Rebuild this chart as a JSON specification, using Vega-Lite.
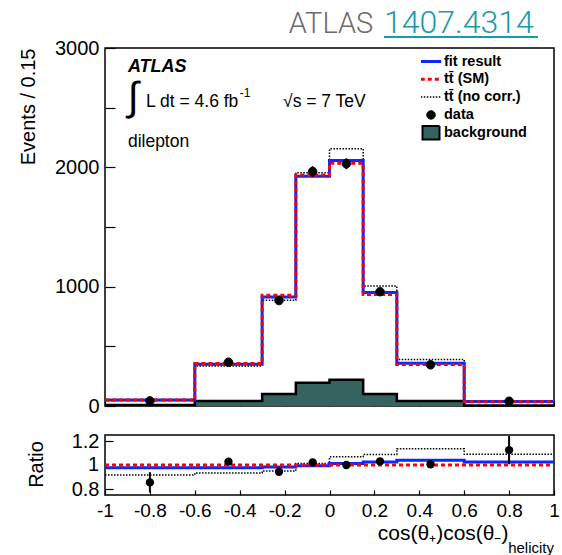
{
  "$schema": "https://vega.github.io/schema/vega-lite/v6.json",
  "background": "white",
  "padding": {"left": 17, "top": 5, "right": 0, "bottom": 0},
  "bounds": "flush",
  "spacing": 29,
  "datasets": {
    "hist": [
      {"x": -1, "sm": 51, "fit": 50, "nc": 47, "bg": 8, "rsm": 1, "rfit": 0.978, "rnc": 0.917},
      {"x": -0.6, "sm": 357, "fit": 350, "nc": 336, "bg": 42, "rsm": 1, "rfit": 0.978, "rnc": 0.933},
      {"x": -0.3, "sm": 928, "fit": 914, "nc": 887, "bg": 100, "rsm": 1, "rfit": 0.983, "rnc": 0.95},
      {"x": -0.15, "sm": 1935, "fit": 1925, "nc": 1955, "bg": 195, "rsm": 1, "rfit": 0.994, "rnc": 1.013},
      {"x": 0, "sm": 2035, "fit": 2058, "nc": 2155, "bg": 220, "rsm": 1, "rfit": 1.013, "rnc": 1.068},
      {"x": 0.15, "sm": 935, "fit": 952, "nc": 1006, "bg": 100, "rsm": 1, "rfit": 1.025, "rnc": 1.087},
      {"x": 0.3, "sm": 347, "fit": 358, "nc": 389, "bg": 42, "rsm": 1, "rfit": 1.04, "rnc": 1.135},
      {"x": 0.6, "sm": 36, "fit": 37, "nc": 39, "bg": 5, "rsm": 1, "rfit": 1.025, "rnc": 1.09},
      {"x": 1, "sm": 36, "fit": 37, "nc": 39, "bg": 5, "rsm": 1, "rfit": 1.025, "rnc": 1.09}
    ],
    "pts": [
      {"x": -0.8, "data": 43, "err": 7, "r": 0.855, "rerr": 0.085},
      {"x": -0.45, "data": 367, "err": 19, "r": 1.028, "rerr": 0.022},
      {"x": -0.225, "data": 884, "err": 30, "r": 0.944, "rerr": 0.017},
      {"x": -0.075, "data": 1965, "err": 44, "r": 1.022, "rerr": 0.014},
      {"x": 0.075, "data": 2030, "err": 45, "r": 1.0, "rerr": 0.014},
      {"x": 0.225, "data": 958, "err": 31, "r": 1.03, "rerr": 0.017},
      {"x": 0.45, "data": 345, "err": 19, "r": 1.006, "rerr": 0.022},
      {"x": 0.8, "data": 40, "err": 6, "r": 1.124, "rerr": 0.118}
    ]
  },
  "config": {
    "font": "Liberation Sans",
    "view": {"stroke": "#000", "strokeWidth": 1.5},
    "axis": {
      "domain": false, "grid": false,
      "labelFont": "Liberation Sans", "labelFontSize": 20, "labelColor": "#000",
      "titleFont": "Liberation Sans", "titleFontSize": 20, "titleFontWeight": "normal", "titleColor": "#000",
      "tickColor": "#000", "tickWidth": 1.2,
      "labelOverlap": false, "labelFlush": false, "labelBound": false
    },
    "axisY": {"labelOverlap": false},
    "axisX": {"labelOverlap": false}
  },
  "vconcat": [
    {
      "width": 449,
      "height": 358,
      "layer": [
        {
          "data": {"name": "hist"},
          "mark": {"type": "area", "interpolate": "step-after", "opacity": 1, "color": "#35635f"},
          "encoding": {
            "x": {"field": "x", "type": "quantitative", "scale": {"domain": [-1, 1], "nice": false, "zero": false},
              "axis": {"title": null, "labels": false, "tickSize": -5,
                "values": [-1,-0.95,-0.9,-0.85,-0.8,-0.75,-0.7,-0.65,-0.6,-0.55,-0.5,-0.45,-0.4,-0.35,-0.3,-0.25,-0.2,-0.15,-0.1,-0.05,0,0.05,0.1,0.15,0.2,0.25,0.3,0.35,0.4,0.45,0.5,0.55,0.6,0.65,0.7,0.75,0.8,0.85,0.9,0.95,1]}},
            "y": {"field": "bg", "type": "quantitative", "title": "Events / 0.15", "scale": {"domain": [0, 3000], "nice": false, "zero": false},
              "axis": {"title": "Events / 0.15", "format": "d", "tickSize": -10,
                "values": [0, 250, 500, 750, 1000, 1250, 1500, 1750, 2000, 2250, 2500, 2750, 3000],
                "labelExpr": "datum.value % 1000 === 0 ? datum.label : ''",
                "labelPadding": 16,
                "titleX": -71, "titleY": 0, "titleAlign": "right", "titleBaseline": "alphabetic", "titleAngle": -90}}
          }
        },
        {
          "data": {"name": "hist"},
          "mark": {"type": "line", "interpolate": "step-after", "color": "#000", "strokeWidth": 2.5},
          "encoding": {"x": {"field": "x", "type": "quantitative"}, "y": {"field": "bg", "type": "quantitative", "title": "Events / 0.15"}}
        },
        {
          "data": {"name": "hist"},
          "mark": {"type": "line", "interpolate": "step-after", "color": "#000", "strokeWidth": 1.5, "strokeDash": [1.5, 1.5]},
          "encoding": {"x": {"field": "x", "type": "quantitative"}, "y": {"field": "nc", "type": "quantitative", "title": "Events / 0.15"}}
        },
        {
          "data": {"name": "hist"},
          "mark": {"type": "line", "interpolate": "step-after", "color": "#0a28ff", "strokeWidth": 3},
          "encoding": {"x": {"field": "x", "type": "quantitative"}, "y": {"field": "fit", "type": "quantitative", "title": "Events / 0.15"}}
        },
        {
          "data": {"name": "hist"},
          "mark": {"type": "line", "interpolate": "step-after", "color": "#ff0000", "strokeWidth": 3, "strokeDash": [4, 3]},
          "encoding": {"x": {"field": "x", "type": "quantitative"}, "y": {"field": "sm", "type": "quantitative", "title": "Events / 0.15"}}
        },
        {
          "data": {"name": "pts"},
          "mark": {"type": "errorbar", "color": "#000", "thickness": 2},
          "encoding": {"x": {"field": "x", "type": "quantitative"}, "y": {"field": "data", "type": "quantitative", "title": "Events / 0.15"},
            "yError": {"field": "err"}}
        },
        {
          "data": {"name": "pts"},
          "mark": {"type": "point", "size": 289, "opacity": 1},
          "encoding": {
            "x": {"field": "x", "type": "quantitative"},
            "y": {"field": "data", "type": "quantitative", "title": "Events / 0.15"},
            "fill": {"datum": "data",
              "scale": {"domain": ["fit result", "tt\u0304 (SM)", "tt\u0304 (no corr.)", "data", "background"],
                        "range": ["transparent", "transparent", "transparent", "#000000", "#35635f"]},
              "legend": {
                "title": null, "orient": "none", "legendX": 316, "legendY": 5,
                "labelFont": "Liberation Sans", "labelFontSize": 14.5, "labelFontWeight": "bold", "labelColor": "#000",
                "labelOffset": 3, "symbolSize": 289, "rowPadding": 0.8, "clipHeight": 17, "padding": 0, "symbolOpacity": 1}},
            "stroke": {"datum": "data",
              "scale": {"domain": ["fit result", "tt\u0304 (SM)", "tt\u0304 (no corr.)", "data", "background"],
                        "range": ["#0a28ff", "#ff0000", "#000000", "#000000", "#000000"]}},
            "shape": {"datum": "data",
              "scale": {"domain": ["fit result", "tt\u0304 (SM)", "tt\u0304 (no corr.)", "data", "background"],
                        "range": ["M-1.2,0H1.2", "M-1.2,0H1.2", "M-1.2,0H1.2", "M-0.5,0A0.5,0.5,0,1,1,0.5,0A0.5,0.5,0,1,1,-0.5,0Z", "M-1,-0.8H1V0.8H-1Z"]}},
            "strokeDash": {"datum": "data",
              "scale": {"domain": ["fit result", "tt\u0304 (SM)", "tt\u0304 (no corr.)", "data", "background"],
                        "range": [[1, 0], [4, 3], [1.5, 1.5], [1, 0], [1, 0]]}},
            "strokeWidth": {"datum": "data",
              "scale": {"type": "ordinal", "domain": ["fit result", "tt\u0304 (SM)", "tt\u0304 (no corr.)", "data", "background"],
                        "range": [3, 3, 1.5, 1, 2]}}
          }
        },
        {
          "data": {"values": [{}]},
          "mark": {"type": "text", "text": "ATLAS", "fontSize": 18, "fontStyle": "italic", "fontWeight": "bold", "align": "left", "baseline": "alphabetic", "color": "#000"},
          "encoding": {"x": {"datum": -0.898}, "y": {"datum": 2795}}
        },
        {
          "data": {"values": [{}]},
          "mark": {"type": "text", "text": "\u222b", "fontSize": 40, "align": "left", "baseline": "middle", "color": "#000"},
          "encoding": {"x": {"datum": -0.9}, "y": {"datum": 2581}}
        },
        {
          "data": {"values": [{}]},
          "mark": {"type": "text", "text": "L dt = 4.6 fb", "fontSize": 17.5, "align": "left", "baseline": "alphabetic", "color": "#000"},
          "encoding": {"x": {"datum": -0.817}, "y": {"datum": 2506}}
        },
        {
          "data": {"values": [{}]},
          "mark": {"type": "text", "text": "-1", "fontSize": 12, "align": "left", "baseline": "alphabetic", "color": "#000"},
          "encoding": {"x": {"datum": -0.4}, "y": {"datum": 2590}}
        },
        {
          "data": {"values": [{}]},
          "mark": {"type": "text", "text": "\u221as = 7 TeV", "fontSize": 17.5, "align": "left", "baseline": "alphabetic", "color": "#000"},
          "encoding": {"x": {"datum": -0.207}, "y": {"datum": 2506}}
        },
        {
          "data": {"values": [{}]},
          "mark": {"type": "text", "text": "dilepton", "fontSize": 17.5, "align": "left", "baseline": "alphabetic", "color": "#000"},
          "encoding": {"x": {"datum": -0.898}, "y": {"datum": 2170}}
        },
        {
          "data": {"values": [{}]},
          "mark": {"type": "text", "text": "ATLAS", "font": "Roboto", "fontWeight": 300, "fontSize": 29, "align": "right", "baseline": "alphabetic", "color": "#6b6b6b"},
          "encoding": {"x": {"datum": 0.195}, "y": {"datum": 3128}}
        },
        {
          "data": {"values": [{}]},
          "mark": {"type": "text", "text": "1407.4314", "font": "Roboto", "fontWeight": 300, "fontSize": 32, "align": "left", "baseline": "alphabetic", "color": "#1a9aa8"},
          "encoding": {"x": {"datum": 0.2428}, "y": {"datum": 3128}}
        },
        {
          "data": {"values": [{}]},
          "mark": {"type": "rule", "color": "#1a9aa8", "strokeWidth": 2},
          "encoding": {"x": {"datum": 0.2428}, "x2": {"datum": 0.9287}, "y": {"datum": 3092}}
        }
      ]
    },
    {
      "width": 449,
      "height": 60,
      "layer": [
        {
          "data": {"name": "hist"},
          "mark": {"type": "line", "interpolate": "step-after", "color": "#000", "strokeWidth": 1.5, "strokeDash": [1.5, 1.5]},
          "encoding": {
            "x": {"field": "x", "type": "quantitative", "title": "cos(\u03b8\u208a)cos(\u03b8\u208b)", "scale": {"domain": [-1, 1], "nice": false, "zero": false},
              "axis": {"title": "cos(\u03b8\u208a)cos(\u03b8\u208b)", "format": "~g", "labelFontSize": 19, "tickSize": -5,
                "values": [-1,-0.95,-0.9,-0.85,-0.8,-0.75,-0.7,-0.65,-0.6,-0.55,-0.5,-0.45,-0.4,-0.35,-0.3,-0.25,-0.2,-0.15,-0.1,-0.05,0,0.05,0.1,0.15,0.2,0.25,0.3,0.35,0.4,0.45,0.5,0.55,0.6,0.65,0.7,0.75,0.8,0.85,0.9,0.95,1],
                "labelExpr": "abs(datum.value*5 - round(datum.value*5)) < 1e-6 ? replace(datum.label, '\u2212', '-') : ''",
                "labelPadding": 11,
                "titleFontSize": 21, "titleX": 403, "titleY": 44, "titleAlign": "right", "titleBaseline": "alphabetic"}},
            "y": {"field": "rnc", "type": "quantitative", "title": "Ratio", "scale": {"domain": [0.75, 1.25], "nice": false, "zero": false},
              "axis": {"title": "Ratio", "format": "~g", "values": [0.8, 1, 1.2], "labelExpr": "datum.value == 1 ? '' : datum.label",
                "labelPadding": 14, "tickSize": -8,
                "titleX": -63, "titleY": 29, "titleAlign": "center", "titleBaseline": "alphabetic", "titleAngle": -90}}
          }
        },
        {
          "data": {"name": "hist"},
          "mark": {"type": "line", "interpolate": "step-after", "color": "#0a28ff", "strokeWidth": 3},
          "encoding": {"x": {"field": "x", "type": "quantitative", "title": "cos(\u03b8\u208a)cos(\u03b8\u208b)"}, "y": {"field": "rfit", "type": "quantitative", "title": "Ratio"}}
        },
        {
          "data": {"name": "hist"},
          "mark": {"type": "line", "interpolate": "step-after", "color": "#ff0000", "strokeWidth": 3, "strokeDash": [4, 3]},
          "encoding": {"x": {"field": "x", "type": "quantitative", "title": "cos(\u03b8\u208a)cos(\u03b8\u208b)"}, "y": {"field": "rsm", "type": "quantitative", "title": "Ratio"}}
        },
        {
          "data": {"name": "pts"},
          "mark": {"type": "errorbar", "color": "#000", "thickness": 2},
          "encoding": {"x": {"field": "x", "type": "quantitative", "title": "cos(\u03b8\u208a)cos(\u03b8\u208b)"}, "y": {"field": "r", "type": "quantitative", "title": "Ratio"},
            "yError": {"field": "rerr"}}
        },
        {
          "data": {"name": "pts"},
          "mark": {"type": "point", "filled": true, "size": 70, "opacity": 1, "color": "#000"},
          "encoding": {"x": {"field": "x", "type": "quantitative", "title": "cos(\u03b8\u208a)cos(\u03b8\u208b)"}, "y": {"field": "r", "type": "quantitative", "title": "Ratio"}}
        },
        {
          "data": {"values": [{}]},
          "mark": {"type": "text", "text": "1", "fontSize": 20, "align": "right", "baseline": "middle", "dx": -6, "color": "#000"},
          "encoding": {"x": {"datum": -1}, "y": {"datum": 1}}
        },
        {
          "data": {"values": [{}]},
          "mark": {"type": "text", "text": "helicity", "fontSize": 15, "align": "right", "baseline": "alphabetic", "color": "#000"},
          "encoding": {"x": {"datum": 1}, "y": {"datum": 0.267}}
        }
      ]
    }
  ]
}
